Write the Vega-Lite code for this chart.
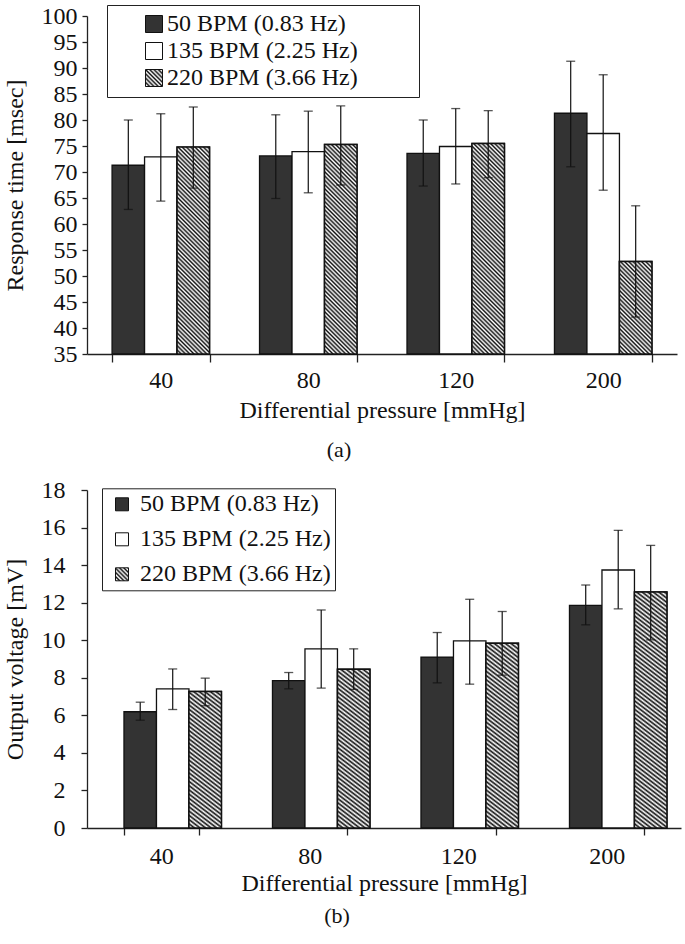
{
  "$schema": "https://vega.github.io/schema/vega-lite/v6.json",
  "padding": {"left": 3, "top": 4, "right": 2, "bottom": 5},
  "background": "white",
  "params": [
    {"name": "hatchStops", "value": [
      {"offset":0,"color":"#111"},{"offset":0.0056,"color":"#fff"},{"offset":0.0111,"color":"#111"},{"offset":0.0167,"color":"#fff"},{"offset":0.0222,"color":"#111"},{"offset":0.0278,"color":"#fff"},{"offset":0.0333,"color":"#111"},{"offset":0.0389,"color":"#fff"},{"offset":0.0444,"color":"#111"},{"offset":0.05,"color":"#fff"},{"offset":0.0556,"color":"#111"},{"offset":0.0611,"color":"#fff"},{"offset":0.0667,"color":"#111"},{"offset":0.0722,"color":"#fff"},{"offset":0.0778,"color":"#111"},{"offset":0.0833,"color":"#fff"},{"offset":0.0889,"color":"#111"},{"offset":0.0944,"color":"#fff"},
      {"offset":0.1,"color":"#111"},{"offset":0.1056,"color":"#fff"},{"offset":0.1111,"color":"#111"},{"offset":0.1167,"color":"#fff"},{"offset":0.1222,"color":"#111"},{"offset":0.1278,"color":"#fff"},{"offset":0.1333,"color":"#111"},{"offset":0.1389,"color":"#fff"},{"offset":0.1444,"color":"#111"},{"offset":0.15,"color":"#fff"},{"offset":0.1556,"color":"#111"},{"offset":0.1611,"color":"#fff"},{"offset":0.1667,"color":"#111"},{"offset":0.1722,"color":"#fff"},{"offset":0.1778,"color":"#111"},{"offset":0.1833,"color":"#fff"},{"offset":0.1889,"color":"#111"},{"offset":0.1944,"color":"#fff"},
      {"offset":0.2,"color":"#111"},{"offset":0.2056,"color":"#fff"},{"offset":0.2111,"color":"#111"},{"offset":0.2167,"color":"#fff"},{"offset":0.2222,"color":"#111"},{"offset":0.2278,"color":"#fff"},{"offset":0.2333,"color":"#111"},{"offset":0.2389,"color":"#fff"},{"offset":0.2444,"color":"#111"},{"offset":0.25,"color":"#fff"},{"offset":0.2556,"color":"#111"},{"offset":0.2611,"color":"#fff"},{"offset":0.2667,"color":"#111"},{"offset":0.2722,"color":"#fff"},{"offset":0.2778,"color":"#111"},{"offset":0.2833,"color":"#fff"},{"offset":0.2889,"color":"#111"},{"offset":0.2944,"color":"#fff"},
      {"offset":0.3,"color":"#111"},{"offset":0.3056,"color":"#fff"},{"offset":0.3111,"color":"#111"},{"offset":0.3167,"color":"#fff"},{"offset":0.3222,"color":"#111"},{"offset":0.3278,"color":"#fff"},{"offset":0.3333,"color":"#111"},{"offset":0.3389,"color":"#fff"},{"offset":0.3444,"color":"#111"},{"offset":0.35,"color":"#fff"},{"offset":0.3556,"color":"#111"},{"offset":0.3611,"color":"#fff"},{"offset":0.3667,"color":"#111"},{"offset":0.3722,"color":"#fff"},{"offset":0.3778,"color":"#111"},{"offset":0.3833,"color":"#fff"},{"offset":0.3889,"color":"#111"},{"offset":0.3944,"color":"#fff"},
      {"offset":0.4,"color":"#111"},{"offset":0.4056,"color":"#fff"},{"offset":0.4111,"color":"#111"},{"offset":0.4167,"color":"#fff"},{"offset":0.4222,"color":"#111"},{"offset":0.4278,"color":"#fff"},{"offset":0.4333,"color":"#111"},{"offset":0.4389,"color":"#fff"},{"offset":0.4444,"color":"#111"},{"offset":0.45,"color":"#fff"},{"offset":0.4556,"color":"#111"},{"offset":0.4611,"color":"#fff"},{"offset":0.4667,"color":"#111"},{"offset":0.4722,"color":"#fff"},{"offset":0.4778,"color":"#111"},{"offset":0.4833,"color":"#fff"},{"offset":0.4889,"color":"#111"},{"offset":0.4944,"color":"#fff"},
      {"offset":0.5,"color":"#111"},{"offset":0.5056,"color":"#fff"},{"offset":0.5111,"color":"#111"},{"offset":0.5167,"color":"#fff"},{"offset":0.5222,"color":"#111"},{"offset":0.5278,"color":"#fff"},{"offset":0.5333,"color":"#111"},{"offset":0.5389,"color":"#fff"},{"offset":0.5444,"color":"#111"},{"offset":0.55,"color":"#fff"},{"offset":0.5556,"color":"#111"},{"offset":0.5611,"color":"#fff"},{"offset":0.5667,"color":"#111"},{"offset":0.5722,"color":"#fff"},{"offset":0.5778,"color":"#111"},{"offset":0.5833,"color":"#fff"},{"offset":0.5889,"color":"#111"},{"offset":0.5944,"color":"#fff"},
      {"offset":0.6,"color":"#111"},{"offset":0.6056,"color":"#fff"},{"offset":0.6111,"color":"#111"},{"offset":0.6167,"color":"#fff"},{"offset":0.6222,"color":"#111"},{"offset":0.6278,"color":"#fff"},{"offset":0.6333,"color":"#111"},{"offset":0.6389,"color":"#fff"},{"offset":0.6444,"color":"#111"},{"offset":0.65,"color":"#fff"},{"offset":0.6556,"color":"#111"},{"offset":0.6611,"color":"#fff"},{"offset":0.6667,"color":"#111"},{"offset":0.6722,"color":"#fff"},{"offset":0.6778,"color":"#111"},{"offset":0.6833,"color":"#fff"},{"offset":0.6889,"color":"#111"},{"offset":0.6944,"color":"#fff"},
      {"offset":0.7,"color":"#111"},{"offset":0.7056,"color":"#fff"},{"offset":0.7111,"color":"#111"},{"offset":0.7167,"color":"#fff"},{"offset":0.7222,"color":"#111"},{"offset":0.7278,"color":"#fff"},{"offset":0.7333,"color":"#111"},{"offset":0.7389,"color":"#fff"},{"offset":0.7444,"color":"#111"},{"offset":0.75,"color":"#fff"},{"offset":0.7556,"color":"#111"},{"offset":0.7611,"color":"#fff"},{"offset":0.7667,"color":"#111"},{"offset":0.7722,"color":"#fff"},{"offset":0.7778,"color":"#111"},{"offset":0.7833,"color":"#fff"},{"offset":0.7889,"color":"#111"},{"offset":0.7944,"color":"#fff"},
      {"offset":0.8,"color":"#111"},{"offset":0.8056,"color":"#fff"},{"offset":0.8111,"color":"#111"},{"offset":0.8167,"color":"#fff"},{"offset":0.8222,"color":"#111"},{"offset":0.8278,"color":"#fff"},{"offset":0.8333,"color":"#111"},{"offset":0.8389,"color":"#fff"},{"offset":0.8444,"color":"#111"},{"offset":0.85,"color":"#fff"},{"offset":0.8556,"color":"#111"},{"offset":0.8611,"color":"#fff"},{"offset":0.8667,"color":"#111"},{"offset":0.8722,"color":"#fff"},{"offset":0.8778,"color":"#111"},{"offset":0.8833,"color":"#fff"},{"offset":0.8889,"color":"#111"},{"offset":0.8944,"color":"#fff"},
      {"offset":0.9,"color":"#111"},{"offset":0.9056,"color":"#fff"},{"offset":0.9111,"color":"#111"},{"offset":0.9167,"color":"#fff"},{"offset":0.9222,"color":"#111"},{"offset":0.9278,"color":"#fff"},{"offset":0.9333,"color":"#111"},{"offset":0.9389,"color":"#fff"},{"offset":0.9444,"color":"#111"},{"offset":0.95,"color":"#fff"},{"offset":0.9556,"color":"#111"},{"offset":0.9611,"color":"#fff"},{"offset":0.9667,"color":"#111"},{"offset":0.9722,"color":"#fff"},{"offset":0.9778,"color":"#111"},{"offset":0.9833,"color":"#fff"},{"offset":0.9889,"color":"#111"},{"offset":0.9944,"color":"#fff"},
      {"offset":1,"color":"#111"}
    ]}
  ],
  "config": {
    "font": "Liberation Serif",
    "view": {"stroke": null},
    "axis": {
      "labelFont": "Liberation Serif", "titleFont": "Liberation Serif",
      "labelFontSize": 24, "titleFontSize": 24, "titleFontWeight": "normal",
      "labelColor": "#111", "titleColor": "#111",
      "domainColor": "#222", "tickColor": "#222", "domainWidth": 1.3, "tickWidth": 1.3,
      "grid": false, "labelOverlap": false
    },
    "legend": {
      "labelFont": "Liberation Serif", "labelFontSize": 24, "labelColor": "#111",
      "labelLimit": 500, "strokeColor": "#222", "fillColor": "white"
    },
    "title": {"font": "Liberation Serif", "fontSize": 22, "fontWeight": "normal", "color": "#111"}
  },
  "resolve": {"scale": {"fill": "independent"}},
  "concat": [
    {
      "width": 590, "height": 338,
      "title": {"text": "(a)", "orient": "bottom", "anchor": "middle", "frame": "group", "dx": -43, "offset": 17},
      "data": {"values": [
        {"pressure": "40", "bpm": "50 BPM (0.83 Hz)", "mean": 71.3, "lo": 62.8, "hi": 80.0},
        {"pressure": "40", "bpm": "135 BPM (2.25 Hz)", "mean": 72.9, "lo": 64.4, "hi": 81.2},
        {"pressure": "40", "bpm": "220 BPM (3.66 Hz)", "mean": 74.8, "lo": 66.9, "hi": 82.5},
        {"pressure": "80", "bpm": "50 BPM (0.83 Hz)", "mean": 73.1, "lo": 64.9, "hi": 81.0},
        {"pressure": "80", "bpm": "135 BPM (2.25 Hz)", "mean": 73.9, "lo": 66.0, "hi": 81.7},
        {"pressure": "80", "bpm": "220 BPM (3.66 Hz)", "mean": 75.3, "lo": 67.5, "hi": 82.7},
        {"pressure": "120", "bpm": "50 BPM (0.83 Hz)", "mean": 73.6, "lo": 67.3, "hi": 80.0},
        {"pressure": "120", "bpm": "135 BPM (2.25 Hz)", "mean": 74.9, "lo": 67.7, "hi": 82.2},
        {"pressure": "120", "bpm": "220 BPM (3.66 Hz)", "mean": 75.5, "lo": 68.9, "hi": 81.8},
        {"pressure": "200", "bpm": "50 BPM (0.83 Hz)", "mean": 81.3, "lo": 71.0, "hi": 91.3},
        {"pressure": "200", "bpm": "135 BPM (2.25 Hz)", "mean": 77.4, "lo": 66.5, "hi": 88.7},
        {"pressure": "200", "bpm": "220 BPM (3.66 Hz)", "mean": 52.8, "lo": 42.1, "hi": 63.5}
      ]},
      "encoding": {
        "x": {"field": "pressure", "type": "nominal", "sort": ["40", "80", "120", "200"],
              "scale": {"paddingInner": 0.339, "paddingOuter": 0.17},
              "title": "Differential pressure [mmHg]",
              "axis": {"tickBand": "extent", "tickSize": 8, "labelPadding": 6.5, "titlePadding": 6, "labelAngle": 0}},
        "xOffset": {"field": "bpm", "type": "nominal", "sort": ["50 BPM (0.83 Hz)", "135 BPM (2.25 Hz)", "220 BPM (3.66 Hz)"],
                    "scale": {"paddingInner": 0, "paddingOuter": 0}}
      },
      "layer": [
        {
          "mark": {"type": "bar", "stroke": "#111", "strokeWidth": 1.3},
          "encoding": {
            "y": {"field": "mean", "type": "quantitative", "stack": null,
                  "scale": {"domain": [35, 100], "zero": false, "nice": false},
                  "title": "Response time [msec]",
                  "axis": {"values": [35, 40, 45, 50, 55, 60, 65, 70, 75, 80, 85, 90, 95, 100], "format": "d", "tickCount": 40, "labelOverlap": false, "tickSize": 5, "labelPadding": 5, "titlePadding": 14}},
            "y2": {"datum": 35},
            "fill": {"field": "bpm", "type": "nominal",
                     "scale": {"domain": ["50 BPM (0.83 Hz)", "135 BPM (2.25 Hz)", "220 BPM (3.66 Hz)"],
                               "range": ["#333333", "#ffffff", {"expr": "{gradient: 'linear', x1: 0, y1: 1, x2: 11.23, y2: -10.23, stops: hatchStops}"}]},
                     "legend": {"orient": "none", "legendX": 20, "legendY": -11, "title": null,
                                "symbolType": "square", "symbolSize": 289, "symbolOffset": 28, "labelOffset": 1,
                                "symbolStrokeColor": "#111", "symbolStrokeWidth": 1,
                                "rowPadding": 3, "padding": 7,
                                "labelExpr": "datum.label + '\u00a0\u00a0\u00a0\u00a0\u00a0\u00a0\u00a0\u00a0\u00a0\u200b'"}}
          }
        },
        {
          "transform": [{"filter": "datum.bpm == '220 BPM (3.66 Hz)'"}],
          "mark": {"type": "bar", "stroke": "#111", "strokeWidth": 1.5,
                   "fill": {"expr": "{gradient: 'linear', x1: 0, y1: 1, x2: 381.8*32.5/(1056 + pow((datum.mean-35)*5.2,2)), y2: 1 - 381.8*(datum.mean-35)*5.2/(1056 + pow((datum.mean-35)*5.2,2)), stops: hatchStops}"}},
          "encoding": {
            "y": {"field": "mean", "type": "quantitative", "stack": null, "title": "Response time [msec]"},
            "y2": {"datum": 35}
          }
        },
        {
          "mark": {"type": "rule", "stroke": "#111", "strokeWidth": 1.2},
          "encoding": {
            "y": {"field": "lo", "type": "quantitative", "title": "Response time [msec]"},
            "y2": {"field": "hi"}
          }
        },
        {
          "mark": {"type": "tick", "color": "#111", "size": 9, "thickness": 1.3},
          "encoding": {"y": {"field": "lo", "type": "quantitative", "title": "Response time [msec]"}}
        },
        {
          "mark": {"type": "tick", "color": "#111", "size": 9, "thickness": 1.3},
          "encoding": {"y": {"field": "hi", "type": "quantitative", "title": "Response time [msec]"}}
        }
      ]
    },
    {
      "width": 594, "height": 338,
      "title": {"text": "(b)", "orient": "bottom", "anchor": "middle", "frame": "group", "dx": -47, "offset": 10.6},
      "data": {"values": [
        {"pressure": "40", "bpm": "50 BPM (0.83 Hz)", "mean": 6.19, "lo": 5.74, "hi": 6.70},
        {"pressure": "40", "bpm": "135 BPM (2.25 Hz)", "mean": 7.41, "lo": 6.31, "hi": 8.47},
        {"pressure": "40", "bpm": "220 BPM (3.66 Hz)", "mean": 7.27, "lo": 6.51, "hi": 7.98},
        {"pressure": "80", "bpm": "50 BPM (0.83 Hz)", "mean": 7.85, "lo": 7.41, "hi": 8.28},
        {"pressure": "80", "bpm": "135 BPM (2.25 Hz)", "mean": 9.54, "lo": 7.45, "hi": 11.61},
        {"pressure": "80", "bpm": "220 BPM (3.66 Hz)", "mean": 8.46, "lo": 7.38, "hi": 9.54},
        {"pressure": "120", "bpm": "50 BPM (0.83 Hz)", "mean": 9.10, "lo": 7.73, "hi": 10.41},
        {"pressure": "120", "bpm": "135 BPM (2.25 Hz)", "mean": 9.96, "lo": 7.66, "hi": 12.18},
        {"pressure": "120", "bpm": "220 BPM (3.66 Hz)", "mean": 9.84, "lo": 8.14, "hi": 11.53},
        {"pressure": "200", "bpm": "50 BPM (0.83 Hz)", "mean": 11.86, "lo": 10.82, "hi": 12.94},
        {"pressure": "200", "bpm": "135 BPM (2.25 Hz)", "mean": 13.74, "lo": 11.67, "hi": 15.85},
        {"pressure": "200", "bpm": "220 BPM (3.66 Hz)", "mean": 12.57, "lo": 10.02, "hi": 15.05}
      ]},
      "encoding": {
        "x": {"field": "pressure", "type": "nominal", "sort": ["40", "80", "120", "200"],
              "scale": {"paddingInner": 0.498, "paddingOuter": 0.249},
              "title": "Differential pressure [mmHg]",
              "axis": {"tickBand": "extent", "tickSize": 7, "labelPadding": 9.5, "titlePadding": 3, "labelAngle": 0}},
        "xOffset": {"field": "bpm", "type": "nominal", "sort": ["50 BPM (0.83 Hz)", "135 BPM (2.25 Hz)", "220 BPM (3.66 Hz)"],
                    "scale": {"paddingInner": 0, "paddingOuter": 0}}
      },
      "layer": [
        {
          "mark": {"type": "bar", "stroke": "#111", "strokeWidth": 1.3},
          "encoding": {
            "y": {"field": "mean", "type": "quantitative", "stack": null,
                  "scale": {"domain": [0, 18], "nice": false},
                  "title": "Output voltage [mV]",
                  "axis": {"values": [0, 2, 4, 6, 8, 10, 12, 14, 16, 18], "format": "d", "tickCount": 40, "labelOverlap": false, "tickSize": 6, "labelPadding": 16, "titlePadding": 14}},
            "y2": {"datum": 0},
            "fill": {"field": "bpm", "type": "nominal",
                     "scale": {"domain": ["50 BPM (0.83 Hz)", "135 BPM (2.25 Hz)", "220 BPM (3.66 Hz)"],
                               "range": ["#333333", "#ffffff", {"expr": "{gradient: 'linear', x1: 0, y1: 1, x2: 14.69, y2: -13.69, stops: hatchStops}"}]},
                     "legend": {"orient": "none", "legendX": 15, "legendY": -1.7, "title": null,
                                "symbolType": "square", "symbolSize": 169, "symbolOffset": 4, "labelOffset": 6,
                                "symbolStrokeColor": "#111", "symbolStrokeWidth": 1,
                                "rowPadding": 11, "padding": 4}}
          }
        },
        {
          "transform": [{"filter": "datum.bpm == '220 BPM (3.66 Hz)'"}],
          "mark": {"type": "bar", "stroke": "#111", "strokeWidth": 1.5,
                   "fill": {"expr": "{gradient: 'linear', x1: 0, y1: 1, x2: 381.8*24.8/(615 + pow(datum.mean*18.78,2)), y2: 1 - 381.8*datum.mean*18.78/(615 + pow(datum.mean*18.78,2)), stops: hatchStops}"}},
          "encoding": {
            "y": {"field": "mean", "type": "quantitative", "stack": null, "title": "Output voltage [mV]"},
            "y2": {"datum": 0}
          }
        },
        {
          "mark": {"type": "rule", "stroke": "#111", "strokeWidth": 1.2},
          "encoding": {
            "y": {"field": "lo", "type": "quantitative", "title": "Output voltage [mV]"},
            "y2": {"field": "hi"}
          }
        },
        {
          "mark": {"type": "tick", "color": "#111", "size": 9, "thickness": 1.3},
          "encoding": {"y": {"field": "lo", "type": "quantitative", "title": "Output voltage [mV]"}}
        },
        {
          "mark": {"type": "tick", "color": "#111", "size": 9, "thickness": 1.3},
          "encoding": {"y": {"field": "hi", "type": "quantitative", "title": "Output voltage [mV]"}}
        }
      ]
    }
  ],
  "columns": 1,
  "align": "none",
  "spacing": 17
}
